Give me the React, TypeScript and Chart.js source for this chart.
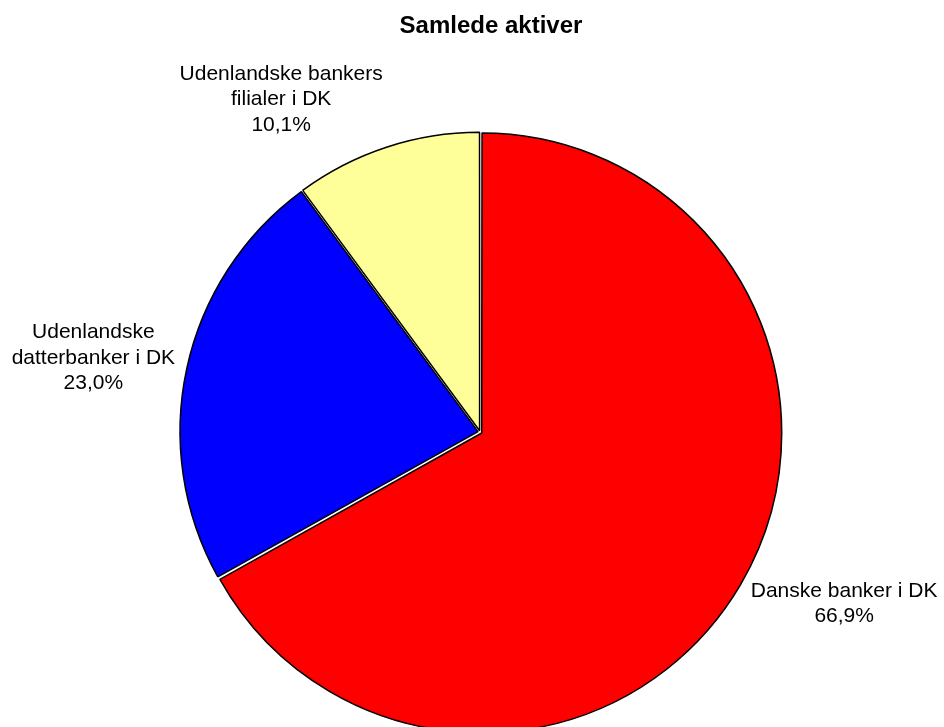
import React, { useEffect, useRef } from 'react';
import { Chart, registerables } from 'chart.js';

Chart.register(...registerables);

const chartTitle = 'Samlede aktiver';
const categories = [
  'Danske banker i DK',
  'Udenlandske datterbanker i DK',
  'Udenlandske bankers filialer i DK',
];
const categoryLines = [
  ['Danske banker i DK'],
  ['Udenlandske', 'datterbanker i DK'],
  ['Udenlandske bankers', 'filialer i DK'],
];
const shares = [66.9, 23.0, 10.1];
const sliceColors = ['#FF0000', '#0000FF', '#FFFF99'];
const sliceOffsets = [8, 8, 5];

const fmtPct = (v: number) => v.toFixed(1).replace('.', ',') + '%';

const LABEL_FONT = '21px "Liberation Sans", Arial, sans-serif';
const TITLE_FONT = 'bold 24px "Liberation Sans", Arial, sans-serif';
const LINE_H = 25.5;

const piePlugin = {
  id: 'pieLabelsAndTitle',
  afterDraw(chart: any) {
    const ctx = chart.ctx as CanvasRenderingContext2D;
    const meta = chart.getDatasetMeta(0);
    ctx.save();
    // title
    ctx.font = TITLE_FONT;
    ctx.fillStyle = '#000';
    ctx.textAlign = 'center';
    ctx.textBaseline = 'alphabetic';
    const ca = chart.chartArea;
    ctx.fillText(chartTitle, (ca.left + ca.right) / 2 + 11, 33);

    // labels
    ctx.font = LABEL_FONT;
    ctx.textBaseline = 'middle';
    meta.data.forEach((arc: any, i: number) => {
      const p = arc.getProps(['x', 'y', 'startAngle', 'endAngle', 'outerRadius'], true);
      const mid = (p.startAngle + p.endAngle) / 2;
      const dx = Math.cos(mid);
      const dy = Math.sin(mid);
      const off = arc.options.offset || 0;
      const circ = p.endAngle - p.startAngle;
      const fix = 1 - Math.sin(Math.min(Math.PI, circ));
      const t = (off / 4) * (1 + fix);
      const gap = 12;
      const px = p.x + dx * (t + p.outerRadius + gap);
      const py = p.y + dy * (t + p.outerRadius + gap);
      const lines = [...categoryLines[i], fmtPct(shares[i])];
      const w = Math.max(...lines.map((l) => ctx.measureText(l).width));
      const h = lines.length * LINE_H;
      const cx = px + Math.sign(dx) * (w / 2);
      const cy = py + dy * (h / 2);
      lines.forEach((l, k) => {
        ctx.fillText(l, cx, cy + (k - (lines.length - 1) / 2) * LINE_H);
      });
    });
    ctx.restore();
  },
};

export default function App() {
  const ref = useRef<HTMLCanvasElement>(null);
  useEffect(() => {
    if (!ref.current) return;
    const chart = new Chart(ref.current, {
      type: 'pie',
      data: {
        labels: categories,
        datasets: [
          {
            data: shares,
            backgroundColor: sliceColors,
            borderColor: '#000000',
            borderWidth: 1.5,
            offset: sliceOffsets,
          },
        ],
      },
      options: {
        responsive: false,
        animation: false,
        devicePixelRatio: 1,
        events: [],
        radius: 298,
        layout: { padding: { top: 42, left: 16, right: 0, bottom: 0 } },
        plugins: {
          legend: { display: false },
          tooltip: { enabled: false },
          title: { display: false },
        },
      } as any,
      plugins: [piePlugin],
    });
    return () => chart.destroy();
  }, []);
  return (
    <div
      style={{
        position: 'absolute',
        left: 0,
        top: 0,
        width: 944,
        height: 727,
        overflow: 'hidden',
        background: '#fff',
      }}
    >
      <canvas ref={ref} width={944} height={822} style={{ display: 'block' }} />
    </div>
  );
}
